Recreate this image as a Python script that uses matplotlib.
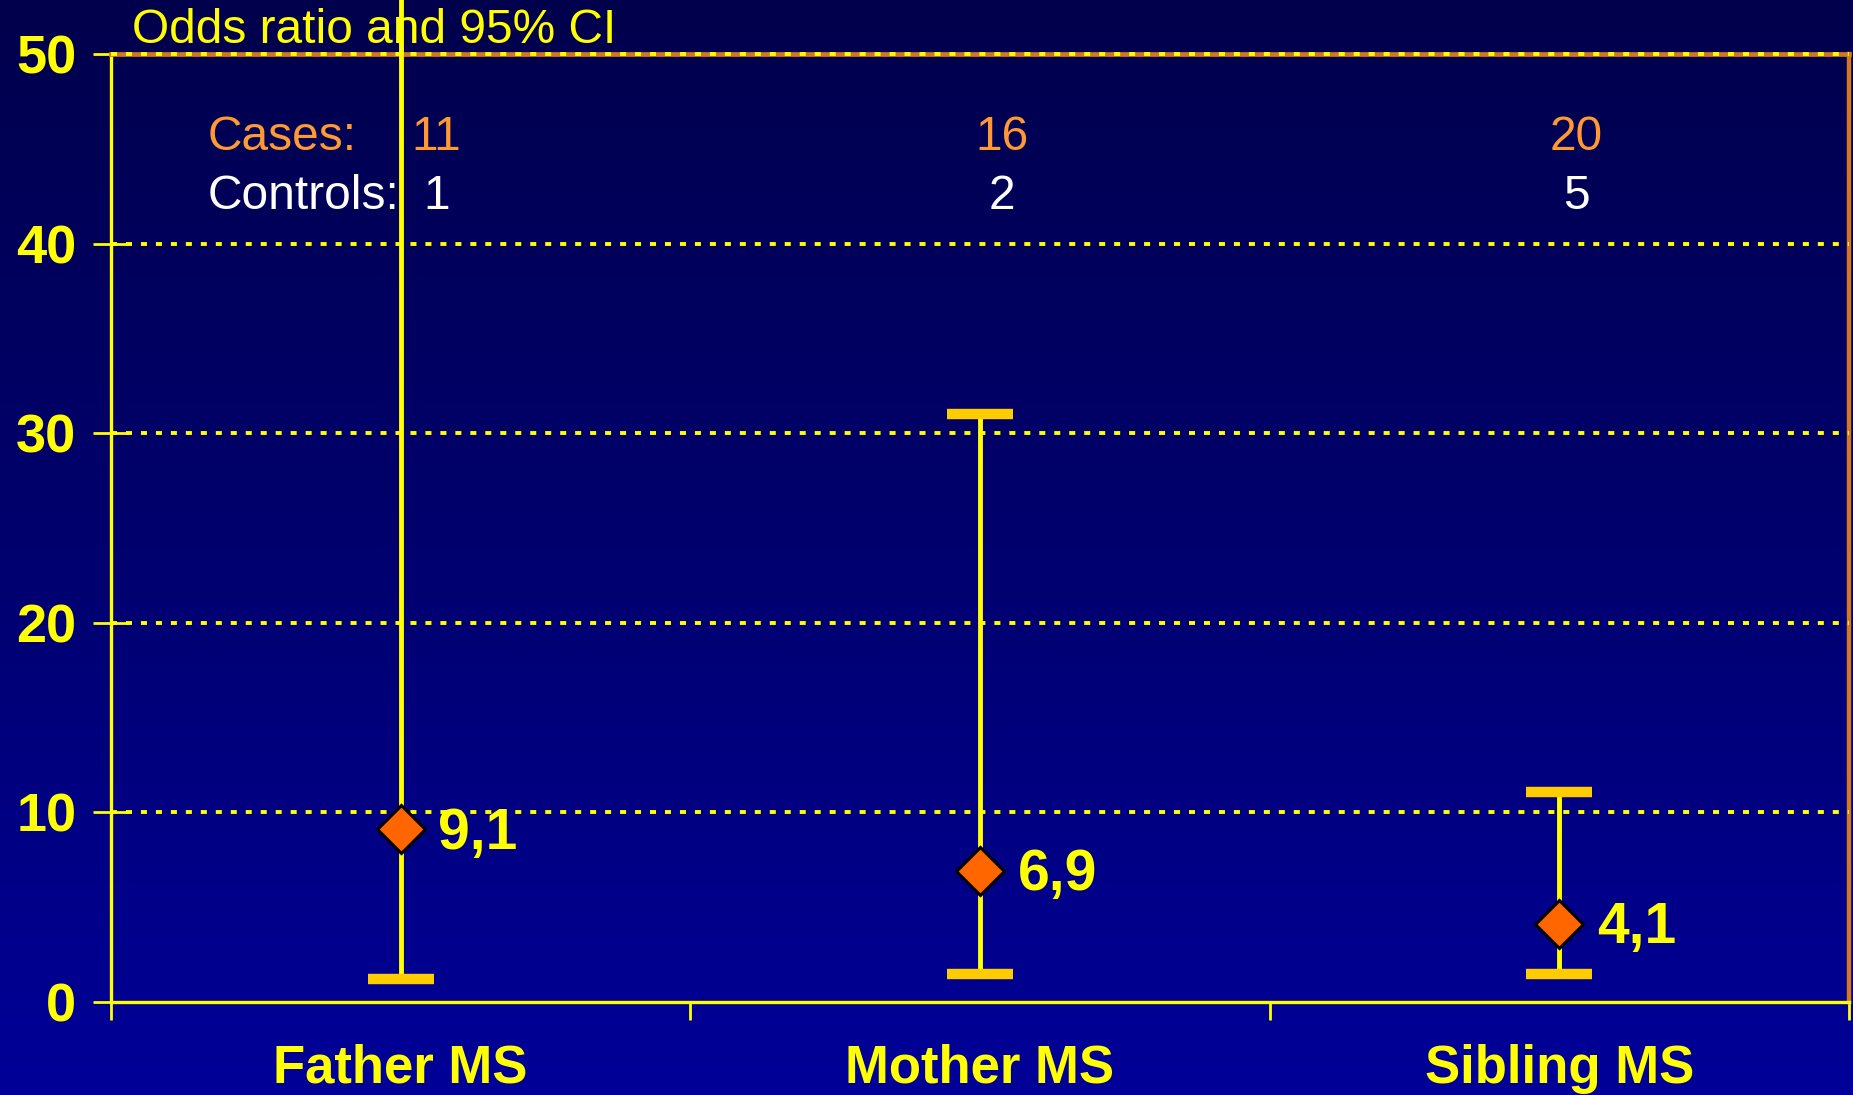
import numpy as np
import matplotlib
matplotlib.use("Agg")
import matplotlib.pyplot as plt
from matplotlib.colors import LinearSegmentedColormap

categories = ["Father MS", "Mother MS", "Sibling MS"]
odds_ratio = [9.1, 6.9, 4.1]
ci_low = [1.2, 1.5, 1.5]
ci_high = [55.0, 31.0, 11.1]
or_labels = ["9,1", "6,9", "4,1"]
cases = [11, 16, 20]
controls = [1, 2, 5]
yticks = [0, 10, 20, 30, 40, 50]

YELLOW = "#FFFF00"
GOLD = "#FFCC00"
ORANGE_TXT = "#FF9933"

plt.rcParams["font.family"] = ["Liberation Sans", "DejaVu Sans"]

fig = plt.figure(figsize=(18.53, 10.95), dpi=100)

# background gradient
bg = fig.add_axes([0, 0, 1, 1], zorder=-10)
cmap = LinearSegmentedColormap.from_list("bg", ["#00004C", "#00006E", "#000098"])
grad = np.linspace(0, 1, 256).reshape(-1, 1)
bg.imshow(grad, aspect="auto", cmap=cmap, extent=[0, 1, 0, 1], origin="upper")
bg.axis("off")

ax = fig.add_axes([0.0599, 0.0849, 0.9379, 0.8658])
ax.set_facecolor("none")
x = np.arange(len(categories))
ax.set_xlim(-0.5, 2.5)
ax.set_ylim(0, 50)

# spines
for s in ["left", "bottom"]:
    ax.spines[s].set_color(YELLOW)
    ax.spines[s].set_linewidth(2.4)
ax.spines["top"].set_color("#D2781E")
ax.spines["top"].set_linewidth(3.4)
ax.spines["right"].set_color("#D2781E")
ax.spines["right"].set_linewidth(3.2)

# grid (dotted yellow, also over the top border)
for yv in yticks[1:]:
    ax.axhline(yv, color=YELLOW, lw=2.8, linestyle=(0, (1.55, 2.3)),
               zorder=3, clip_on=False)

ax.set_yticks(yticks)
ax.set_yticklabels([str(v) for v in yticks], color=YELLOW, fontsize=39,
                   fontweight="bold")
ax.tick_params(axis="y", direction="inout", length=26, width=2, color=YELLOW,
               pad=12)

ax.set_xticks(x)
ax.set_xticklabels(categories, color=YELLOW, fontsize=38, fontweight="bold")
ax.tick_params(axis="x", which="major", length=0, pad=30)
ax.set_xticks([-0.5, 0.5, 1.5, 2.5], minor=True)
ax.tick_params(axis="x", which="minor", direction="out", length=13, width=2,
               color=YELLOW)

# error bars
ax.vlines(x, ci_low, ci_high, color=YELLOW, lw=3.5, zorder=4, clip_on=False)
ax.plot(x, ci_low, linestyle="none", marker="_", ms=48, mew=7.5, color=GOLD,
        zorder=4, clip_on=False)
ax.plot(x, ci_high, linestyle="none", marker="_", ms=48, mew=7.5, color=GOLD,
        zorder=4, clip_on=False)
ax.plot(x, odds_ratio, linestyle="none", marker="D", ms=24, mfc="#FF6600",
        mec="black", mew=2.2, zorder=5)

for xi, v, lab in zip(x, odds_ratio, or_labels):
    ax.annotate(lab, (xi, v), xytext=(27, -3), textcoords="offset points",
                color=YELLOW, fontsize=41, fontweight="bold", va="center",
                ha="left")

# counts
count_dx = [0.062, 0.038, 0.029]
ax.text(-0.333, 45.6, "Cases:", color=ORANGE_TXT, fontsize=34.5, va="center",
        ha="left")
ax.text(-0.333, 42.5, "Controls:", color="white", fontsize=34.5, va="center",
        ha="left")
for xi, c, k, dx in zip(x, cases, controls, count_dx):
    ax.text(xi + dx, 45.6, str(c), color=ORANGE_TXT, fontsize=34.5,
            va="center", ha="center")
    ax.text(xi + dx, 42.5, str(k), color="white", fontsize=34.5,
            va="center", ha="center")

fig.text(0.0713, 0.972, "Odds ratio and 95% CI", color=YELLOW, fontsize=34.5,
         va="center", ha="left", zorder=0)

fig.savefig("out.png", dpi=100)
